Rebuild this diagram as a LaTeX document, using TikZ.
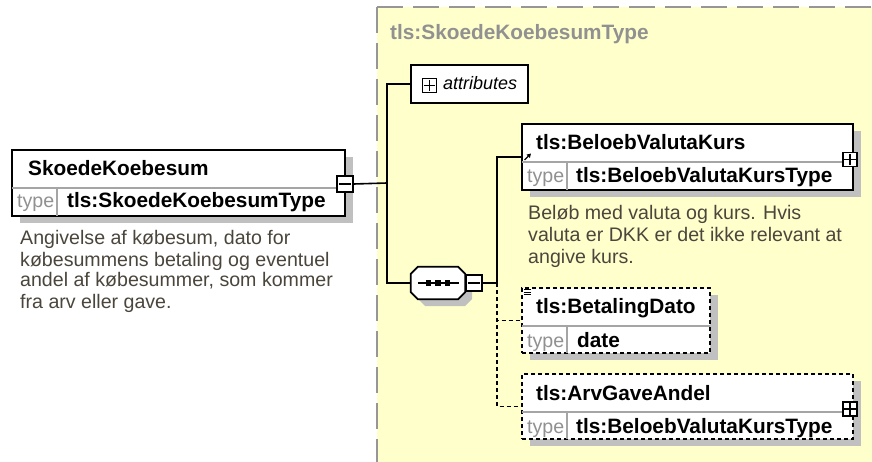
\documentclass[tikz,border=0pt]{standalone}
\usepackage{fontspec}
\setmainfont{Liberation Sans}
\usetikzlibrary{arrows.meta}
\definecolor{cyellow}{RGB}{255,255,204}
\definecolor{cborder}{RGB}{150,150,150}
\definecolor{ctitle}{RGB}{145,145,145}
\definecolor{cdiv}{RGB}{165,165,165}
\definecolor{ctype}{RGB}{145,145,145}
\definecolor{cdesc}{RGB}{75,70,60}
\definecolor{shg}{RGB}{192,192,192}
\newcommand\fname{\fontsize{20.8pt}{22pt}\selectfont\bfseries}
\newcommand\freg{\fontsize{19.6pt}{21pt}\selectfont}
\newcommand\fital{\fontsize{18pt}{20pt}\selectfont\itshape}
\begin{document}
\begin{tikzpicture}[x=1pt,y=-1pt,
  elbox/.style={draw=black,line width=1.8pt,fill=white,inner sep=0pt,rectangle},
  optbox/.style={elbox,dash pattern=on 4pt off 3pt},
  divline/.style={draw=cdiv,line width=1.3pt},
  conn/.style={draw=black,line width=1.6pt},
  dconn/.style={conn,dash pattern=on 4pt off 3pt},
  icon/.style={draw=black,line width=1.3pt,fill=white,inner sep=0pt,minimum size=#1},
  iconline/.style={draw=black,line width=1.5pt},
  lbl/.style={inner sep=0pt,anchor=base west},
  nametxt/.style={lbl,font=\fname,text=black},
  typetxt/.style={lbl,font=\freg,text=ctype},
  desctxt/.style={lbl,font=\freg,text=cdesc},
  octo/.style={line width=1.8pt},
  shadowfill/.style={fill=shg},
]
\useasboundingbox (0,0) rectangle (872,462);
\fill[white] (0,0) rectangle (872,462);
\fill[cyellow] (377,7) rectangle (872,462);
% container
\draw[cborder,line width=2pt,dash pattern=on 26pt off 10pt] (377,7) -- (377,462);
\draw[cborder,line width=2pt,dash pattern=on 26pt off 10pt] (377,7) -- (872,7);
\node[lbl,font=\fname,text=ctitle] (ttitle) at (390,40) {tls:SkoedeKoebesumType};

% shadows
\path[shadowfill] (19.5,157) rectangle (352.5,223);
\path[shadowfill] (529.5,131) rectangle (860.5,197);
\path[shadowfill] (529.5,295) rectangle (717.5,360);
\path[shadowfill] (529.5,381) rectangle (860.5,446);
\path[shadowfill] (425,274) -- (465,274) -- (472,281) -- (472,299) -- (465,306) -- (425,306) -- (418,299) -- (418,281) -- cycle;

% main element
\node[elbox,minimum width=333pt,minimum height=66pt] (main) at (178.5,183) {};
\draw[divline] ([yshift=-5pt,xshift=1pt]main.west) -- ([yshift=-5pt,xshift=-1pt]main.east);
\draw[divline] ([xshift=46pt,yshift=1pt]main.south west) -- ++(0,-27);
\node[nametxt] (mainname) at (28,176) {SkoedeKoebesum};
\node[typetxt] (maintype) at (17,208) {type};
\node[nametxt] (maintypev) at (67,208) {tls:SkoedeKoebesumType};
\node[icon=16pt] (mainminus) at (345,184) {};
\draw[iconline] ([xshift=2.5pt]mainminus.west) -- ([xshift=-2.5pt]mainminus.east);
\node[desctxt] (md1) at (20,245) {Angivelse af købesum, dato for};
\node[desctxt] (md2) at (20,266) {købesummens betaling og eventuel};
\node[desctxt] (md3) at (20,287) {andel af købesummer, som kommer};
\node[desctxt] (md4) at (20,308) {fra arv eller gave.};

% attributes
\node[elbox,line width=1.5pt,minimum width=117pt,minimum height=38pt] (attr) at (469.5,84) {};
\node[icon=14pt] (attrplus) at (429.5,85.5) {};
\draw[iconline] ([xshift=2pt]attrplus.west) -- ([xshift=-2pt]attrplus.east) ([yshift=-2pt]attrplus.north) -- ([yshift=2pt]attrplus.south);
\node[lbl,font=\fital] (attrtxt) at (443,90) {attributes};

% sequence
\node[inner sep=0pt,minimum width=54pt,minimum height=32pt] (seq) at (438,283) {};
\path[fill=white,draw=black,octo] ([xshift=7pt]seq.north west) -- ([xshift=-7pt]seq.north east) -- ([yshift=-7pt]seq.north east) -- ([yshift=7pt]seq.south east) -- ([xshift=-7pt]seq.south east) -- ([xshift=7pt]seq.south west) -- ([yshift=7pt]seq.south west) -- ([yshift=-7pt]seq.north west) -- cycle;
\draw[line width=1.4pt] ([xshift=7pt]seq.west) -- ([xshift=-6pt]seq.east);
\fill ([xshift=-9.5pt]seq.center) +(-2.7,-2.7) rectangle +(2.7,2.7);
\fill (seq.center) +(-2.7,-2.7) rectangle +(2.7,2.7);
\fill ([xshift=9.5pt]seq.center) +(-2.7,-2.7) rectangle +(2.7,2.7);
\node[icon=16pt] (seqminus) at (474,283) {};
\draw[iconline] ([xshift=2.5pt]seqminus.west) -- ([xshift=-2.5pt]seqminus.east);

% BeloebValutaKurs
\node[elbox,minimum width=331pt,minimum height=66pt] (bel) at (687.5,157) {};
\draw[divline] ([yshift=-5pt,xshift=1pt]bel.west) -- ([yshift=-5pt,xshift=-1pt]bel.east);
\draw[divline] ([xshift=46pt,yshift=1pt]bel.south west) -- ++(0,-27);
\node[nametxt] (belname) at (536,150) {tls:BeloebValutaKurs};
\node[typetxt] (beltype) at (527,183) {type};
\node[nametxt] (beltypev) at (576,183) {tls:BeloebValutaKursType};
\node[icon=14pt] (belplus) at (850,159.5) {};
\draw[iconline] ([xshift=2pt]belplus.west) -- ([xshift=-2pt]belplus.east) ([yshift=-2pt]belplus.north) -- ([yshift=2pt]belplus.south);
\draw[-{Triangle[length=4pt,width=4.5pt]},line width=1.3pt] (524.5,160) -- (531,153.5);
\node[desctxt] (bd1) at (528,220) {Beløb med valuta og kurs. Hvis};
\node[desctxt] (bd2) at (528,241.5) {valuta er DKK er det ikke relevant at};
\node[desctxt] (bd3) at (528,263) {angive kurs.};

% BetalingDato
\node[optbox,minimum width=188pt,minimum height=65pt] (bet) at (616,320.5) {};
\draw[divline] ([yshift=-5.5pt,xshift=1pt]bet.west) -- ([yshift=-5.5pt,xshift=-1pt]bet.east);
\draw[divline] ([xshift=46pt,yshift=1pt]bet.south west) -- ++(0,-26);
\node[nametxt] (betname) at (536,313) {tls:BetalingDato};
\node[typetxt] (bettype) at (527,347) {type};
\node[nametxt] (bettypev) at (577,347) {date};
\draw[line width=1pt] (524,289.5) -- (531,289.5) (524,292) -- (531,292) (524,294.5) -- (531,294.5);

% ArvGaveAndel
\node[optbox,minimum width=331pt,minimum height=65pt] (arv) at (687.5,406.5) {};
\draw[divline] ([yshift=-5.5pt,xshift=1pt]arv.west) -- ([yshift=-5.5pt,xshift=-1pt]arv.east);
\draw[divline] ([xshift=46pt,yshift=1pt]arv.south west) -- ++(0,-26);
\node[nametxt] (arvname) at (536,400) {tls:ArvGaveAndel};
\node[typetxt] (arvtype) at (527,433) {type};
\node[nametxt] (arvtypev) at (576,433) {tls:BeloebValutaKursType};
\node[icon=14pt] (arvplus) at (850,409) {};
\draw[iconline] ([xshift=2pt]arvplus.west) -- ([xshift=-2pt]arvplus.east) ([yshift=-2pt]arvplus.north) -- ([yshift=2pt]arvplus.south);

% connectors
\coordinate (j1) at (387,183);
\coordinate (j2) at (497,283);
\draw[conn] (mainminus.east) -- (j1);
\draw[conn] (attr.west) -| (j1) |- (seq.west);
\draw[conn] (seqminus.east) -- (j2) |- (bel.west);
\draw[dconn] (j2) |- (bet.west);
\draw[dconn] (j2) |- (arv.west);
\end{tikzpicture}
\end{document}
